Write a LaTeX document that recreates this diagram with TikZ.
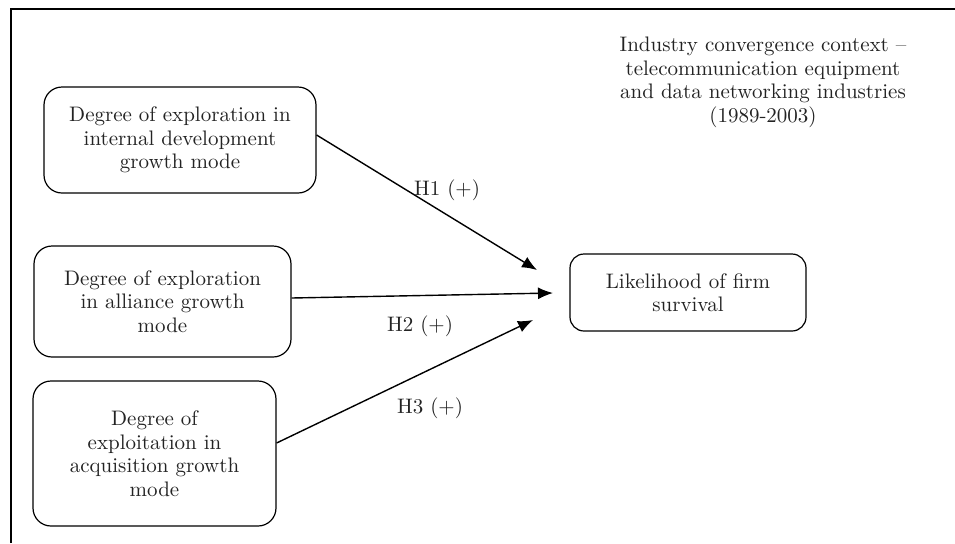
\documentclass[tikz,border=0pt]{standalone}
\usepackage{tikz}
\usetikzlibrary{arrows.meta,positioning}
\usepackage{xcolor}
\definecolor{txtgray}{RGB}{35,35,35}
\tikzstyle{growbox} = [draw, line width=0.6pt, rounded corners=9pt, align=center, text=txtgray, inner sep=0pt]
\tikzstyle{arrow} = [line width=0.7pt, -{Latex[length=7.5pt,width=6pt]}]

\begin{document}
\begin{tikzpicture}[x=0.5pt, y=-0.5pt, font=\fontsize{10.5}{11.75}\selectfont]
\useasboundingbox (0,0) rectangle (955,543);
% Frame (top and left edges only)
\draw[line width=1pt] (11,543) -- (11,9) -- (955,9);

% Growth mode boxes
\node[growbox, minimum width=136pt, minimum height=53pt] (intdev) at (180,140)
  {Degree of exploration in\\internal development\\growth mode};
\node[growbox, minimum width=128.5pt, minimum height=55.5pt] (alliance) at (162.5,301.5)
  {Degree of exploration\\in alliance growth\\mode};
\node[growbox, minimum width=121.5pt, minimum height=72.5pt] (acquis) at (154.5,453.5)
  {Degree of\\exploitation in\\acquisition growth\\mode};

% Outcome
\node[growbox, rounded corners=7pt, minimum width=118pt, minimum height=38.5pt] (survival) at (688,292.5)
  {Likelihood of firm\\survival};

% Context note
\node[align=center, text=txtgray] (context) at (763,82.5)
  {Industry convergence context --\\telecommunication equipment\\and data networking industries\\(1989-2003)};

% Hypotheses
\coordinate (h1end) at (537,270);
\coordinate (h2end) at (553,293);
\coordinate (h3end) at (533,320);
\draw[arrow] ([yshift=2.5pt]intdev.east) -- (h1end);
\draw[arrow] ([yshift=1.75pt]alliance.east) -- (h2end);
\draw[arrow] ([yshift=5.25pt]acquis.east) -- (h3end);

\node[text=txtgray] (h1) at (447,190) {H1 (+)};
\node[text=txtgray] (h2) at (420,326) {H2 (+)};
\node[text=txtgray] (h3) at (430,408) {H3 (+)};
\end{tikzpicture}
\end{document}
